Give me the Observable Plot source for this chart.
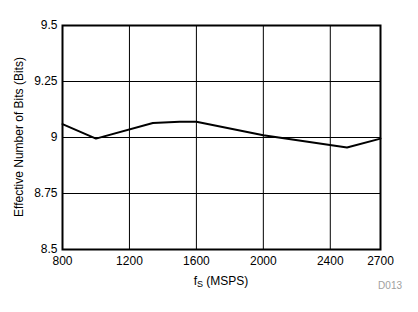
<!DOCTYPE html>
<html><head><meta charset="utf-8">
<script src="https://cdn.jsdelivr.net/npm/d3@7"></script>
<script src="https://cdn.jsdelivr.net/npm/@observablehq/plot@0.6"></script>
<style>
html,body{margin:0;padding:0;background:#fff;}
svg{font-family:"Liberation Sans",Arial,sans-serif;}
</style>
</head><body>
<div id="chart"></div>
<script>
const fs = [800, 1000, 1340, 1500, 1600, 2000, 2500, 2700];
const enob = [9.06, 8.995, 9.065, 9.07, 9.07, 9.01, 8.955, 8.995];
const xTicks = [800, 1200, 1600, 2000, 2400, 2700];
const yTicks = [8.5, 8.75, 9, 9.25, 9.5];
const data = fs.map((f, i) => ({f, v: enob[i]}));

const chart = Plot.plot({
  width: 418, height: 312,
  marginLeft: 62, marginRight: 38, marginTop: 25, marginBottom: 63,
  style: {fontFamily: '"Liberation Sans", Arial, sans-serif', fontSize: "12px", background: "#fff", color: "#000"},
  x: {domain: [800, 2700], ticks: xTicks, label: null},
  y: {domain: [8.5, 9.5], ticks: yTicks, label: null},
  marks: [
    Plot.gridX(xTicks, {stroke: "#000", strokeOpacity: 1, strokeWidth: 1}),
    Plot.gridY(yTicks, {stroke: "#000", strokeOpacity: 1, strokeWidth: 1}),
    Plot.axisX(xTicks, {tickSize: 0, tickPadding: 7, tickFormat: d => String(d), fontSize: 12, fill: "#000"}),
    Plot.axisY(yTicks, {tickSize: 0, tickPadding: 5, tickFormat: d => String(d), fontSize: 12, fill: "#000"}),
    Plot.line(data, {x: "f", y: "v", stroke: "#000", strokeWidth: 2}),
    Plot.frame({stroke: "#000", strokeWidth: 2})
  ]
});
document.getElementById("chart").appendChild(chart);

const svg = d3.select(chart);
// x-axis label with subscript
const xl = svg.append("text")
  .attr("x", 221).attr("y", 285)
  .attr("text-anchor", "middle")
  .attr("font-size", 12).attr("fill", "#000");
xl.append("tspan").text("f");
xl.append("tspan").attr("font-size", 9).attr("dy", 2).text("S");
xl.append("tspan").attr("dy", -2).text(" (MSPS)");
// y-axis label
svg.append("text")
  .attr("transform", "translate(23,137) rotate(-90)")
  .attr("text-anchor", "middle")
  .attr("font-size", 12).attr("fill", "#000")
  .text("Effective Number of Bits (Bits)");
// figure code
svg.append("text")
  .attr("x", 402).attr("y", 289)
  .attr("text-anchor", "end")
  .attr("font-size", 10).attr("fill", "#a0a0a0")
  .text("D013");
</script>
</body></html>
